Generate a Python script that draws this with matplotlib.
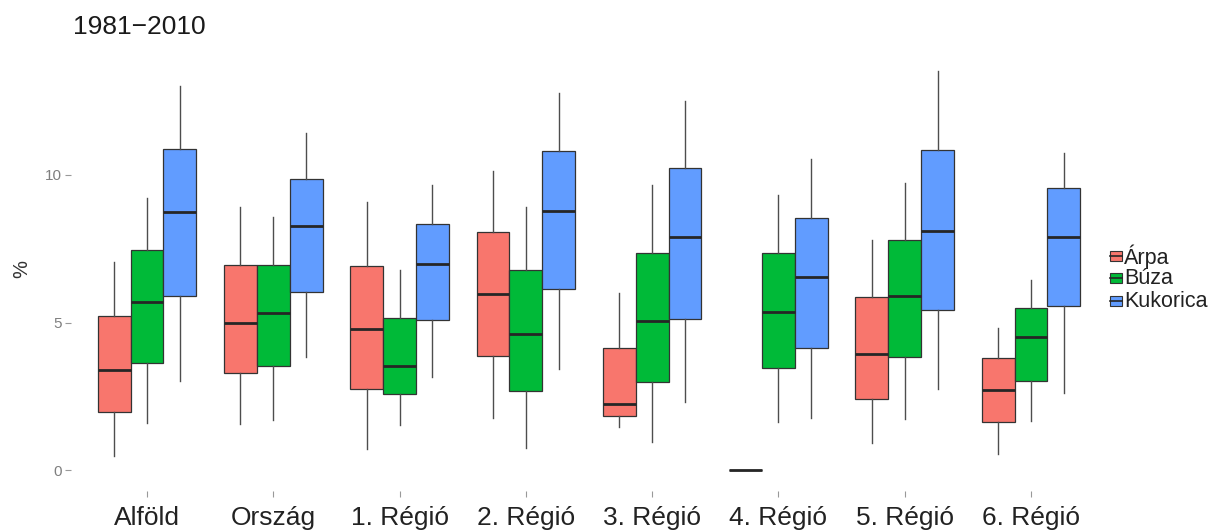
import matplotlib
matplotlib.use("Agg")
import matplotlib.pyplot as plt
from matplotlib.patches import Rectangle
from matplotlib.lines import Line2D

plt.rcParams['font.family'] = ['Liberation Sans', 'DejaVu Sans']

categories = ["Alföld", "Ország", "1. Régió", "2. Régió", "3. Régió",
              "4. Régió", "5. Régió", "6. Régió"]
series = ["Árpa", "Búza", "Kukorica"]
colors = ["#F8766D", "#00BA38", "#619CFF"]

# each list: [whisker low, Q1, median, Q3, whisker high] per category
arpa = [
    [0.49, 1.96, 3.39, 5.22, 7.06],
    [1.55, 3.28, 5.00, 6.96, 8.92],
    [0.70, 2.75, 4.78, 6.93, 9.10],
    [1.77, 3.88, 5.95, 8.06, 10.14],
    [1.47, 1.83, 2.23, 4.12, 5.99],
    [0.00, 0.00, 0.00, 0.00, 0.00],
    [0.90, 2.41, 3.92, 5.88, 7.80],
    [0.53, 1.64, 2.71, 3.79, 4.80],
]
buza = [
    [1.58, 3.64, 5.68, 7.46, 9.21],
    [1.69, 3.53, 5.31, 6.96, 8.56],
    [1.53, 2.56, 3.54, 5.16, 6.78],
    [0.73, 2.68, 4.60, 6.78, 8.93],
    [0.96, 2.99, 5.05, 7.37, 9.66],
    [1.62, 3.45, 5.34, 7.34, 9.32],
    [1.72, 3.82, 5.91, 7.80, 9.72],
    [1.66, 3.03, 4.52, 5.48, 6.44],
]
kukorica = [
    [3.02, 5.89, 8.75, 10.88, 13.02],
    [3.84, 6.02, 8.28, 9.85, 11.41],
    [3.16, 5.08, 6.98, 8.34, 9.66],
    [3.42, 6.12, 8.79, 10.81, 12.79],
    [2.29, 5.13, 7.91, 10.25, 12.51],
    [1.75, 4.15, 6.55, 8.53, 10.53],
    [2.73, 5.42, 8.11, 10.85, 13.54],
    [2.62, 5.56, 7.91, 9.57, 10.73],
]
yticks = [0, 5, 10]
title = "1981\u22122010"

W, H = 1230, 531
fig = plt.figure(figsize=(W / 100, H / 100), dpi=100)
px_left, px_right = 71.2, 1106.8
px_top, px_bottom = 39.3, 490.65
ax = fig.add_axes([px_left / W, 1 - px_bottom / H,
                   (px_right - px_left) / W, (px_bottom - px_top) / H])

box_w = 0.26
offsets = [-box_w, 0.0, box_w]
edge = "#333333"
for s_idx, (data, col) in enumerate(zip([arpa, buza, kukorica], colors)):
    stats = []
    for v in data:
        stats.append(dict(whislo=v[0], q1=v[1], med=v[2], q3=v[3], whishi=v[4], fliers=[]))
    pos = [i + offsets[s_idx] for i in range(len(categories))]
    ax.bxp(stats, positions=pos, widths=box_w, patch_artist=True,
           showcaps=False, showfliers=False, manage_ticks=False,
           boxprops=dict(facecolor=col, edgecolor=edge, linewidth=0.9),
           whiskerprops=dict(color="#4d4d4d", linewidth=1.0),
           medianprops=dict(color="#262626", linewidth=2.0, solid_capstyle='butt'))

ax.set_xlim(-0.6, len(categories) - 1 + 0.6)
ax.set_ylim(-0.7, 14.6)
ax.set_xticks(range(len(categories)))
ax.set_xticklabels(categories, fontsize=19, color="#222222")
ax.set_yticks(yticks)
ax.set_yticklabels([str(t) for t in yticks], fontsize=11, color="#7f7f7f")
ax.tick_params(axis='x', length=4, width=0.8, color="#999999", pad=7)
ax.tick_params(axis='y', length=4, width=0.8, color="#999999", pad=3)
for sp in ax.spines.values():
    sp.set_visible(False)
ax.set_facecolor("white")

fig.text(73 / W, 1 - 27 / H, title, fontsize=19, color="#1a1a1a", va='center', ha='left')
fig.text(22 / W, 1 - 269 / H, "%", fontsize=14.5, color="#333333", rotation=90,
         va='center', ha='center')

# legend
spacing = 22.5
for i, (lab, col) in enumerate(zip(series, colors)):
    yc = 278 + spacing * (i - 1)
    x0, kw, kh = 1110, 12, 10
    fig.add_artist(Rectangle((x0 / W, 1 - (yc + kh / 2) / H), kw / W, kh / H,
                             transform=fig.transFigure, facecolor=col,
                             edgecolor=edge, linewidth=0.8))
    fig.add_artist(Line2D([x0 / W, (x0 + kw) / W], [1 - yc / H, 1 - yc / H],
                          transform=fig.transFigure, color="#262626", linewidth=1.2))
    fig.text((x0 + kw + 2) / W, 1 - (yc + 1) / H, lab, fontsize=15.5, color="#222222",
             va='center', ha='left')

fig.savefig("out.png", dpi=100)
